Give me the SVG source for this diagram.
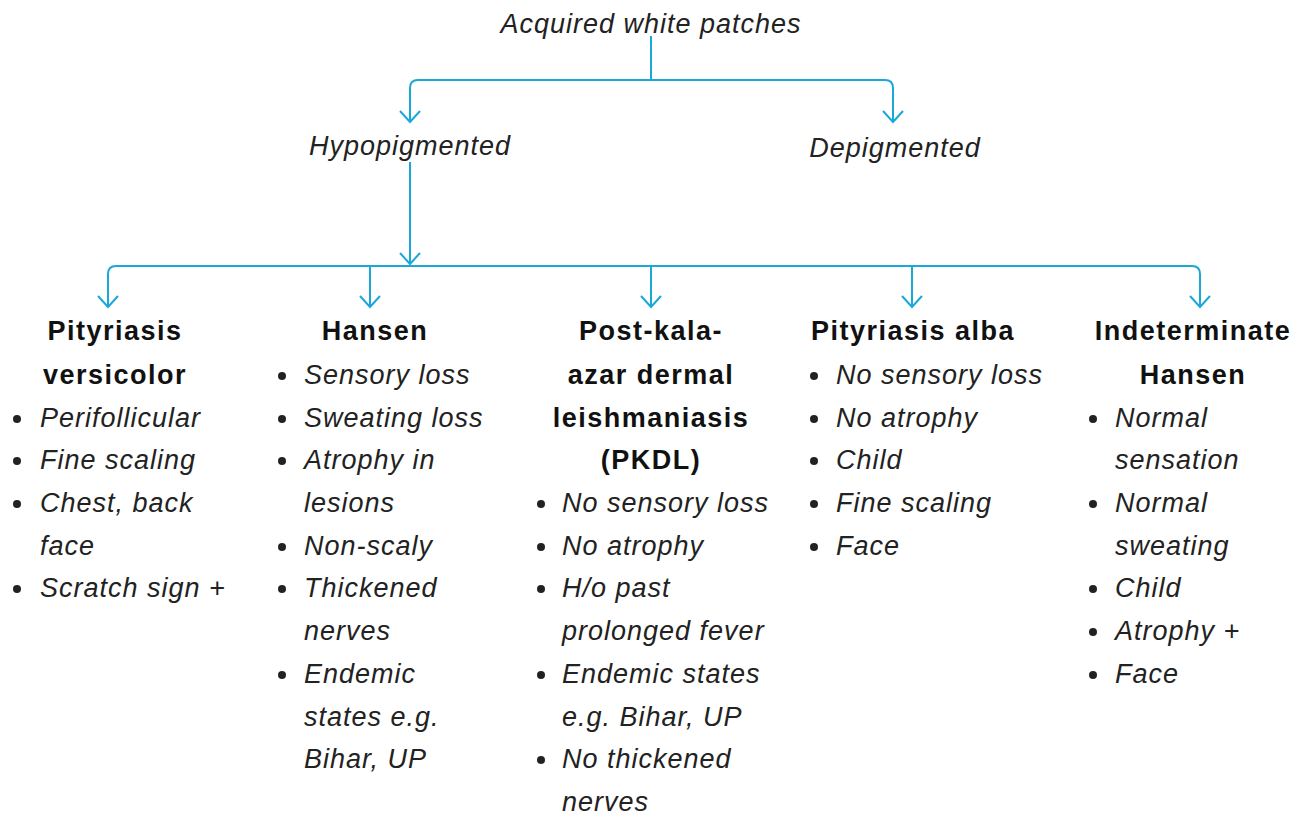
<svg xmlns="http://www.w3.org/2000/svg" width="1306" height="819" viewBox="0 0 1306 819">
<style>
.t{font-family:"Liberation Sans",Arial,sans-serif;font-style:italic;font-size:27px;letter-spacing:1px;fill:#222}
.b{font-family:"Liberation Sans",Arial,sans-serif;font-weight:bold;font-size:27px;letter-spacing:1.5px;fill:#111;text-anchor:middle}
.c{text-anchor:middle}
.ln{fill:none;stroke:#1aa7da;stroke-width:2}
.d{fill:#222}
</style>
<defs>
<marker id="ah" viewBox="0 0 24 24" refX="13" refY="12" markerWidth="24" markerHeight="24" markerUnits="userSpaceOnUse" orient="auto">
<path d="M2,2 L13,12 L2,22" fill="none" stroke="#1aa7da" stroke-width="2"/>
</marker>
</defs>
<g id="connectors">
<path class="ln" d="M651,36 V80"/>
<path class="ln" d="M651,80 H418 Q410,80 410,88 V122" marker-end="url(#ah)"/>
<path class="ln" d="M651,80 H885 Q893,80 893,88 V122" marker-end="url(#ah)"/>
<path class="ln" d="M410,162 V264" marker-end="url(#ah)"/>
<path class="ln" d="M116,266 H1192 Q1200,266 1200,274 V307" marker-end="url(#ah)"/>
<path class="ln" d="M116,266 Q108,266 108,274 V307" marker-end="url(#ah)"/>
<path class="ln" d="M370,266 V307" marker-end="url(#ah)"/>
<path class="ln" d="M651,266 V307" marker-end="url(#ah)"/>
<path class="ln" d="M912,266 V307" marker-end="url(#ah)"/>
</g>
<g id="root"><text class="t c" x="651" y="33">Acquired white patches</text></g>
<g id="hypo"><text class="t c" x="410" y="155">Hypopigmented</text></g>
<g id="depi"><text class="t c" x="895" y="157">Depigmented</text></g>
<g id="pv">
<text class="b" x="115" y="340">Pityriasis</text>
<text class="b" x="115" y="384">versicolor</text>
<g class="d"><circle cx="17" cy="419" r="4"/><circle cx="17" cy="461" r="4"/><circle cx="17" cy="504" r="4"/><circle cx="17" cy="589" r="4"/></g>
<text class="t" x="40" y="427">Perifollicular</text>
<text class="t" x="40" y="469">Fine scaling</text>
<text class="t" x="40" y="512">Chest, back</text>
<text class="t" x="40" y="555">face</text>
<text class="t" x="40" y="597">Scratch sign +</text>
</g>
<g id="hansen">
<text class="b" x="375" y="340">Hansen</text>
<g class="d"><circle cx="282" cy="376" r="4"/><circle cx="282" cy="419" r="4"/><circle cx="282" cy="461" r="4"/><circle cx="282" cy="547" r="4"/><circle cx="282" cy="589" r="4"/><circle cx="282" cy="675" r="4"/></g>
<text class="t" x="304" y="384">Sensory loss</text>
<text class="t" x="304" y="427">Sweating loss</text>
<text class="t" x="304" y="469">Atrophy in</text>
<text class="t" x="304" y="512">lesions</text>
<text class="t" x="304" y="555">Non-scaly</text>
<text class="t" x="304" y="597">Thickened</text>
<text class="t" x="304" y="640">nerves</text>
<text class="t" x="304" y="683">Endemic</text>
<text class="t" x="304" y="726">states e.g.</text>
<text class="t" x="304" y="768">Bihar, UP</text>
</g>
<g id="pkdl">
<text class="b" x="651" y="340">Post-kala-</text>
<text class="b" x="651" y="384">azar dermal</text>
<text class="b" x="651" y="427">leishmaniasis</text>
<text class="b" x="651" y="469">(PKDL)</text>
<g class="d"><circle cx="541" cy="504" r="4"/><circle cx="541" cy="547" r="4"/><circle cx="541" cy="589" r="4"/><circle cx="541" cy="675" r="4"/><circle cx="541" cy="760" r="4"/></g>
<text class="t" x="562" y="512">No sensory loss</text>
<text class="t" x="562" y="555">No atrophy</text>
<text class="t" x="562" y="597">H/o past</text>
<text class="t" x="562" y="640">prolonged fever</text>
<text class="t" x="562" y="683">Endemic states</text>
<text class="t" x="562" y="726">e.g. Bihar, UP</text>
<text class="t" x="562" y="768">No thickened</text>
<text class="t" x="562" y="811">nerves</text>
</g>
<g id="pa">
<text class="b" x="913" y="340">Pityriasis alba</text>
<g class="d"><circle cx="814" cy="376" r="4"/><circle cx="814" cy="419" r="4"/><circle cx="814" cy="461" r="4"/><circle cx="814" cy="504" r="4"/><circle cx="814" cy="547" r="4"/></g>
<text class="t" x="836" y="384">No sensory loss</text>
<text class="t" x="836" y="427">No atrophy</text>
<text class="t" x="836" y="469">Child</text>
<text class="t" x="836" y="512">Fine scaling</text>
<text class="t" x="836" y="555">Face</text>
</g>
<g id="ih">
<text class="b" x="1193" y="340">Indeterminate</text>
<text class="b" x="1193" y="384">Hansen</text>
<g class="d"><circle cx="1093" cy="419" r="4"/><circle cx="1093" cy="504" r="4"/><circle cx="1093" cy="589" r="4"/><circle cx="1093" cy="632" r="4"/><circle cx="1093" cy="675" r="4"/></g>
<text class="t" x="1115" y="427">Normal</text>
<text class="t" x="1115" y="469">sensation</text>
<text class="t" x="1115" y="512">Normal</text>
<text class="t" x="1115" y="555">sweating</text>
<text class="t" x="1115" y="597">Child</text>
<text class="t" x="1115" y="640">Atrophy +</text>
<text class="t" x="1115" y="683">Face</text>
</g>
</svg>
